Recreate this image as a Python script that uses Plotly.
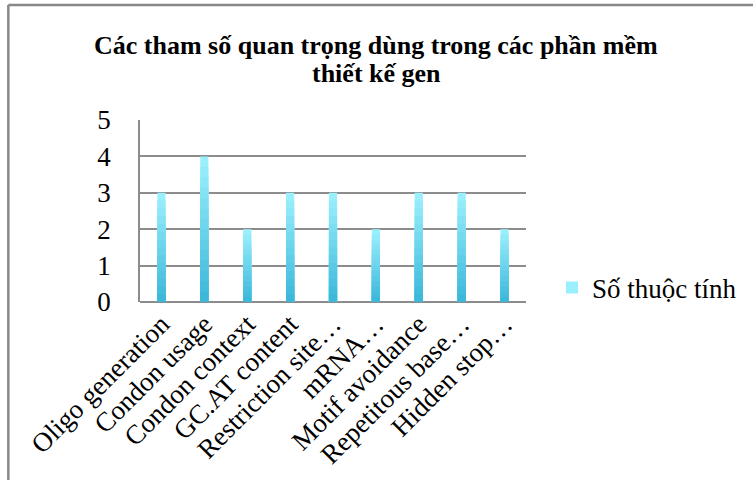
import plotly.graph_objects as go

categories = ["Oligo generation", "Condon usage", "Condon context", "GC.AT content",
              "Restriction site…", "mRNA…", "Motif avoidance", "Repetitous base…", "Hidden stop…"]
values = [3, 4, 2, 3, 3, 2, 3, 3, 2]
series_name = "Số thuộc tính"
title_lines = ["Các tham số quan trọng dùng trong các phần mềm", "thiết kế gen"]
y_ticks = [0, 1, 2, 3, 4, 5]

W, H = 753, 480
L, R, T, B = 140, 226, 120, 178
pw, ph = W - L - R, H - T - B

light = (0x9A, 0xEF, 0xFD)
dark = (0x36, 0xB4, 0xD7)
steps = 14

fig = go.Figure()
for i in range(steps):
    f = 1 - i / steps
    c = tuple(round(dark[k] + (light[k] - dark[k]) * f) for k in range(3))
    fig.add_trace(go.Bar(
        x=categories, y=[v * f for v in values],
        name=series_name, showlegend=(i == 0),
        marker=dict(color="rgb(%d,%d,%d)" % c, line=dict(width=0)),
        width=0.19, hoverinfo="skip",
    ))

fig.update_layout(
    width=W, height=H, barmode="overlay",
    margin=dict(l=L, r=R, t=T, b=B),
    paper_bgcolor="white", plot_bgcolor="white",
    xaxis=dict(tickangle=-45, tickfont=dict(family="Liberation Serif", size=27, color="black"),
               showgrid=False, showline=False, ticks="", automargin=False),
    yaxis=dict(range=[0, 5], tickvals=y_ticks, ticktext=[str(t) for t in y_ticks],
               tickfont=dict(family="Liberation Serif", size=27, color="black"),
               showgrid=True, gridcolor="#8c8c8c", gridwidth=1.5,
               showline=True, linecolor="#8c8c8c", linewidth=1.5,
               zeroline=True, zerolinecolor="#8c8c8c", zerolinewidth=1.5,
               ticks="", ticklabelstandoff=22, automargin=False),
    legend=dict(x=(552 - L) / pw, y=(H - B - 288) / ph, xanchor="left", yanchor="middle",
                font=dict(family="Liberation Serif", size=27, color="black"),
                bgcolor="rgba(0,0,0,0)"),
    showlegend=True,
)

for txt, yc in zip(title_lines, [46, 73]):
    fig.add_annotation(text=txt, xref="paper", yref="paper",
                       x=(377 - L) / pw, y=(H - B - yc) / ph, xanchor="center", yanchor="middle",
                       showarrow=False,
                       font=dict(family="Liberation Serif", size=26, color="black", weight="bold"))

# outer chart frame (top and left edges visible)
fig.add_shape(type="line", xref="paper", yref="paper",
              x0=(8 - L) / pw, x1=(W + 5 - L) / pw, y0=(H - B - 5) / ph, y1=(H - B - 5) / ph,
              line=dict(color="#888888", width=2.5))
fig.add_shape(type="line", xref="paper", yref="paper",
              x0=(8 - L) / pw, x1=(8 - L) / pw, y0=(H - B - 5) / ph, y1=(H - B - H - 5) / ph,
              line=dict(color="#888888", width=2.5))

fig.write_html("out.html")
